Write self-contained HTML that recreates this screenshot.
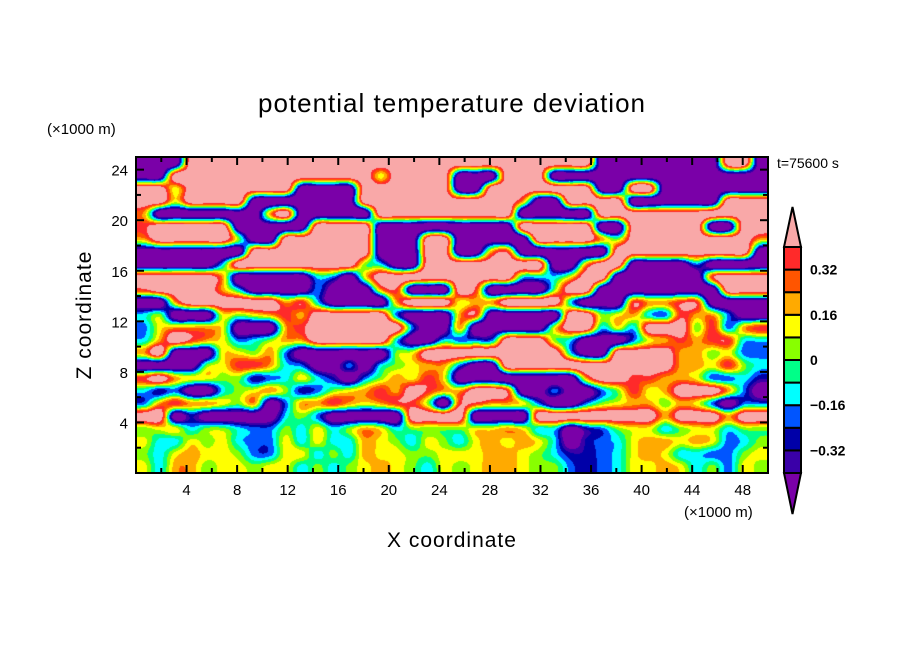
<!DOCTYPE html>
<html><head><meta charset="utf-8"><style>
html,body{margin:0;padding:0;background:#fff;}
#wrap{position:relative;width:904px;height:654px;overflow:hidden;font-family:"Liberation Sans","DejaVu Sans",sans-serif;}
canvas{position:absolute;left:136px;top:157px;}
svg{position:absolute;left:0;top:0;}
</style></head><body>
<div id="wrap">
<canvas id="cv" width="632" height="316"></canvas>
<svg id="sv" width="904" height="654"></svg>
</div>
<script>
// grid of field values, rows from top (z=25) down to z=0, 40 columns across x 0..50
const fieldRows = [
"VVVPPPPPPPPPPPPPPPPP"+"PPPPPPPPPVVVVVVVVPPV",
"VVPPPPPPPPPPPPPYPPPP"+"VVVPPPVVVVVVVVVVVVVV",
"PPYPPPPPPPVVVVPPPPPP"+"VVPPPPPPPVVPPVVVVVVV",
"PPYPPPPVVVVVVVPPPPPP"+"PPPPOVVPPPPVVVVVVPPP",
"OVVVVVVVOPVVVVVPPPPP"+"PPPPVVVVVPPPPPPPPPPP",
"RPPPPPVVVVVPPPPVVVVV"+"VVVVPPPPPVVPPPPPVVPP",
"OPPPPPGVVPPPPPPVVVPP"+"VVVVVPPPPOGPPPPPPPPO",
"VVVVVVVPPPPPPPPVVVPP"+"VVORVVVVVVPPPPPPPPPV",
"VVVVVCPPPPPPPPGCVVPP"+"PPPPPPVVOPPVVVVBVVVV",
"PPPPPOVVVVVCBVYPPPPP"+"PPPPCCCYPPVVVVVVRPPP",
"RPPPPOCVVVVBVVVORVVV"+"PRVVVVGPPVVVVVVVVPPP",
"VVOPPPPPPORCVVVVOPPP"+"YOOPPPPCVVVROORRVVVV",
"CGVVVYGYOROPPPPPBVVV"+"ORVVVVVPPGYOCBROOBVV",
"BYOOOYVVVORPPPPPPBVV"+"OVVVVVYPPCYCPPPGRBOR",
"COPROYBCGOOPPPPPCVVC"+"BBBPPPGCVVVBYORORRCC",
"OPVVVYYGOBVVVVVVGYPP"+"PPPPPPPCVVPPPPOOGYBB",
"VVVVGYRROCBVVBVCGYOO"+"BVVPPPPPPPPPPPOOYRGC",
"RPOYYGGDBCYCDVBGOYRY"+"VVVVVVVVOPPRROOYBBCD",
"CDBVVCGYOGDBGYOROPRO"+"OPPRVVBVVBGRYOPPPOBV",
"BOROOYGOVBOOROYORRGV"+"RROOYBVVBGYOOGOYBVBB",
"PPVDVVVVVCGBVVVVVPPP"+"PVVVVPPPPPPPPOPPPOPP",
"GYYCGGCBBGCYCGOYCGGG"+"GYYOYCCVDBGYYCGYYCGG",
"YCCYGYCBBYCYCCOYGCYG"+"CYOYOYCVDBCYOOYOYBCG",
"GCYOYYGBBYYCGCOYYGGY"+"YYOOYGCDDBCYOYCCBBGY",
"YCOOGYYGYYCGCGYOYGCY"+"GYOOYGGBDBCYYOYCGBYG"
];
const codeValues = {P:0.55,R:0.36,O:0.21,Y:0.12,G:0.03,C:-0.12,B:-0.2,D:-0.3,V:-0.55};
const levels = [-0.40,-0.32,-0.24,-0.16,-0.08,0,0.08,0.16,0.24,0.32,0.40];
const levelColors = ["#7a00a8","#3a00a8","#0000a8","#0055ff","#00ffff","#00ff88","#88ff00","#ffff00","#ffaa00","#ff5500","#ff2a2a","#f9a8a8"];
const xTicks = [4,8,12,16,20,24,28,32,36,40,44,48];
const yTicks = [4,8,12,16,20,24];
const cbLabels = ["0.32","0.16","0","-0.16","-0.32"];
const cbLabelValues = [0.32,0.16,0,-0.16,-0.32];

const PX0=136, PW=632, PY0=157, PH=316, XMAX=50, ZMAX=25;
const xs = x => PX0 + x/XMAX*PW;
const ys = z => PY0 + PH - z/ZMAX*PH;

const grid = fieldRows.map(r => r.split('').map(c => codeValues[c]));
const NR = grid.length, NC = grid[0].length;
function colorOf(v){let i=0;while(i<levels.length && v>=levels[i]) i++;return levelColors[i];}
function hexToRgb(h){return [parseInt(h.substr(1,2),16),parseInt(h.substr(3,2),16),parseInt(h.substr(5,2),16)];}
function g(r,c){r=Math.max(0,Math.min(NR-1,r));c=Math.max(0,Math.min(NC-1,c));return grid[r][c];}
function cr(p0,p1,p2,p3,t){return 0.5*((2*p1)+(-p0+p2)*t+(2*p0-5*p1+4*p2-p3)*t*t+(-p0+3*p1-3*p2+p3)*t*t*t);}
const cv=document.getElementById('cv');const ctx=cv.getContext('2d');
const img=ctx.createImageData(PW,PH);
for(let py=0;py<PH;py++){
  const gy=(py+0.5)/PH*NR-0.5;
  const r1=Math.floor(gy), fy=gy-r1;
  for(let px=0;px<PW;px++){
    const gx=(px+0.5)/PW*NC-0.5;
    const c1=Math.floor(gx), fx=gx-c1;
    const rows=[];
    for(let k=-1;k<=2;k++){
      rows.push(cr(g(r1+k,c1-1),g(r1+k,c1),g(r1+k,c1+1),g(r1+k,c1+2),fx));
    }
    const v=cr(rows[0],rows[1],rows[2],rows[3],fy);
    const rgb=hexToRgb(colorOf(v));const k=(py*PW+px)*4;
    img.data[k]=rgb[0];img.data[k+1]=rgb[1];img.data[k+2]=rgb[2];img.data[k+3]=255;
  }
}
ctx.putImageData(img,0,0);

const NS="http://www.w3.org/2000/svg";const sv=document.getElementById('sv');
function mk(tag,attrs,txt){const e=document.createElementNS(NS,tag);for(const k in attrs)e.setAttribute(k,attrs[k]);if(txt!==undefined)e.textContent=txt;sv.appendChild(e);return e;}
let e;
e=mk('rect',{x:PX0,y:PY0,width:PW,height:PH,fill:'none',stroke:'#000','stroke-width':2});


for(let x=2;x<XMAX;x+=2){
  const major=x%4===0, L=major?8:5;
  e=mk('line',{x1:xs(x),x2:xs(x),y1:PY0+PH,y2:PY0+PH-L,stroke:'#000','stroke-width':2});
  
  
  e=mk('line',{x1:xs(x),x2:xs(x),y1:PY0,y2:PY0+L,stroke:'#000','stroke-width':2});
  
  
}
for(let z=2;z<ZMAX;z+=2){
  const major=z%4===0, L=major?8:5;
  e=mk('line',{x1:PX0,x2:PX0+L,y1:ys(z),y2:ys(z),stroke:'#000','stroke-width':2});
  
  
  e=mk('line',{x1:PX0+PW,x2:PX0+PW-L,y1:ys(z),y2:ys(z),stroke:'#000','stroke-width':2});
  
  
}
xTicks.forEach(t=>{
  e=mk('text',{x:xs(t),y:PY0+PH+22,'text-anchor':'middle','font-size':15,fill:'#000'},String(t));
  
  
});
yTicks.forEach(t=>{
  e=mk('text',{x:PX0-8,y:ys(t)+6,'text-anchor':'end','font-size':15,fill:'#000'},String(t));
  
  
});
e=mk('text',{x:452,y:112,'text-anchor':'middle','font-size':26,fill:'#000','letter-spacing':'1'},'potential temperature deviation');


e=mk('text',{x:47,y:134,'font-size':15,fill:'#000'},'(×1000 m)');


e=mk('text',{x:684,y:517,'font-size':15,fill:'#000'},'(×1000 m)');


e=mk('text',{x:452,y:547,'text-anchor':'middle','font-size':21,fill:'#000','letter-spacing':'1'},'X coordinate');


e=mk('text',{x:0,y:0,'text-anchor':'middle','font-size':21,fill:'#000','letter-spacing':'1',transform:'translate(91,315) rotate(-90)'},'Z coordinate');


e=mk('text',{x:777,y:168,'font-size':14,fill:'#000'},'t=75600 s');



const CBX=784, CBW=17, CBT=247, CBB=473;
const cbY = v => CBB - (v-levels[0])/(levels[levels.length-1]-levels[0])*(CBB-CBT);
e=mk('polygon',{points:`${CBX},${CBT} ${CBX+CBW},${CBT} ${CBX+CBW/2},207`,fill:levelColors[levelColors.length-1],stroke:'#000','stroke-width':2});


e=mk('polygon',{points:`${CBX},${CBB} ${CBX+CBW},${CBB} ${CBX+CBW/2},514`,fill:levelColors[0],stroke:'#000','stroke-width':2});


for(let i=0;i<levels.length-1;i++){
  const y1=cbY(levels[i+1]), y0=cbY(levels[i]);
  e=mk('rect',{x:CBX,y:y1,width:CBW,height:y0-y1,fill:levelColors[i+1],stroke:'#000','stroke-width':2});
  
  
}
cbLabels.forEach((s,i)=>{
  e=mk('text',{x:810,y:cbY(cbLabelValues[i])+5,'font-size':14,'font-weight':'bold',fill:'#000'},s.replace('-','−'));
  
  
});
</script>
</body></html>
